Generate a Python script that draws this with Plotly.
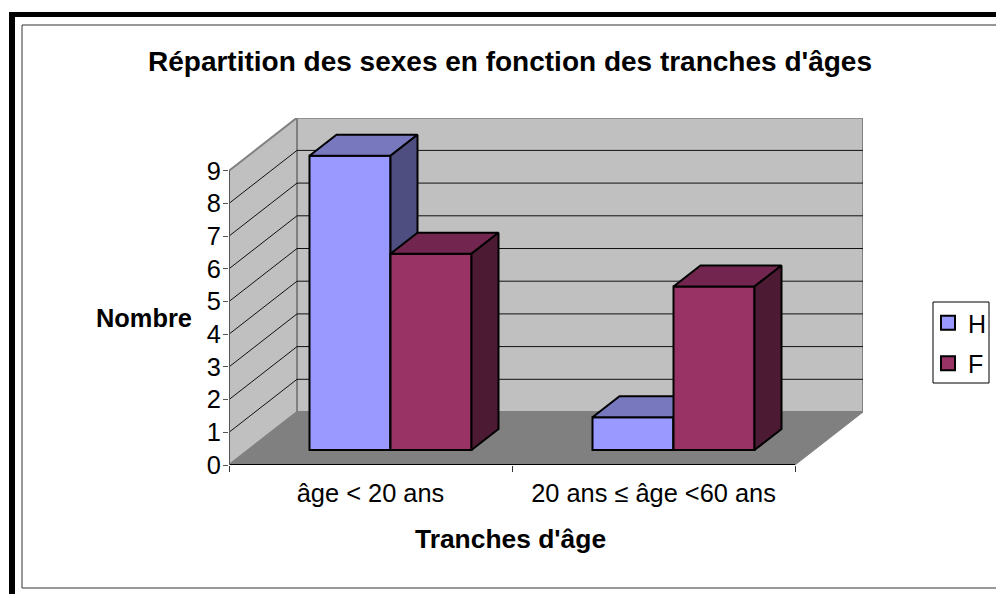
import plotly.graph_objects as go

# Data
categories = ["âge < 20 ans", "20 ans ≤ âge <60 ans"]
h_values = [9, 1]
f_values = [6, 5]
y_ticks = list(range(10))
series_names = ["H", "F"]

# Oblique projection (axis units)
UX = 283.0   # px per category
UY = 32.7    # px per value
WALL_DX, WALL_DY = 68 / UX, 53 / UY
BAR_OFF_X, BAR_OFF_Y = 20 / UX, 15 / UY
BAR_DX, BAR_DY = 27 / UX, 21 / UY
BAR_W = 81 / UX
Y_MAX = 9
X0, X1 = -0.5, 1.5

FONT = "Liberation Sans, Arial, sans-serif"
L, R, T, B = 229, 863, 118, 465
xrange_ = [X0, X0 + (R - L) / UX]
yrange_ = [0, (B - T) / UY]

def px(x): return (x - L) / (R - L)
def py(y): return (B - y) / (B - T)

shapes = []
def poly(points, fill, line="#808080", width=2):
    path = "M" + " L".join(f"{x},{y}" for x, y in points) + " Z"
    shapes.append(dict(type="path", path=path, xref="x", yref="y", layer="below",
                       fillcolor=fill, line=dict(color=line, width=width)))

# Walls and floor
poly([(X0, 0), (X0 + WALL_DX, WALL_DY), (X0 + WALL_DX, WALL_DY + Y_MAX), (X0, Y_MAX)], "#C0C0C0")
poly([(X0 + WALL_DX, WALL_DY), (X1 + WALL_DX, WALL_DY), (X1 + WALL_DX, WALL_DY + Y_MAX), (X0 + WALL_DX, WALL_DY + Y_MAX)], "#C0C0C0")
poly([(X0, 0), (X1, 0), (X1 + WALL_DX, WALL_DY), (X0 + WALL_DX, WALL_DY)], "#808080", "#808080", 1)

# Grid lines on walls
for v in y_ticks[1:-1]:
    shapes.append(dict(type="line", xref="x", yref="y", layer="below", x0=X0, y0=v,
                       x1=X0 + WALL_DX, y1=v + WALL_DY, line=dict(color="#111111", width=1)))
    shapes.append(dict(type="line", xref="x", yref="y", layer="below", x0=X0 + WALL_DX, y0=v + WALL_DY,
                       x1=X1 + WALL_DX, y1=v + WALL_DY, line=dict(color="#111111", width=1)))

# Frame and legend box
shapes += [
    dict(type="rect", xref="paper", yref="paper", x0=px(9), x1=px(15), y0=py(12), y1=py(600),
         fillcolor="black", line=dict(width=0), layer="below"),
    dict(type="rect", xref="paper", yref="paper", x0=px(9), x1=px(1000), y0=py(12), y1=py(17),
         fillcolor="black", line=dict(width=0), layer="below"),
    dict(type="rect", xref="paper", yref="paper", x0=px(22), x1=px(1000), y0=py(25), y1=py(588),
         fillcolor="rgba(0,0,0,0)", line=dict(color="#333333", width=1), layer="below"),
    dict(type="rect", xref="paper", yref="paper", x0=px(933), x1=px(989), y0=py(302), y1=py(383),
         fillcolor="white", line=dict(color="black", width=1), layer="below"),
]

fig = go.Figure()

def add_series(name, values, offset, front, top, side, xa, ya):
    fig.add_trace(go.Bar(
        x=[0, 1], y=values, base=BAR_OFF_Y, width=BAR_W, offset=BAR_OFF_X + offset,
        name=name, marker=dict(color=front, line=dict(color="black", width=2)),
        showlegend=False, xaxis=xa, yaxis=ya, hoverinfo="skip"))
    for i, v in enumerate(values):
        xl = i + BAR_OFF_X + offset
        xr = xl + BAR_W
        ytop = BAR_OFF_Y + v
        fig.add_trace(go.Scatter(
            x=[xl, xr, xr + BAR_DX, xl + BAR_DX, xl],
            y=[ytop, ytop, ytop + BAR_DY, ytop + BAR_DY, ytop],
            mode="lines", fill="toself", fillcolor=top, line=dict(color="black", width=2),
            showlegend=False, xaxis=xa, yaxis=ya, hoverinfo="skip"))
        fig.add_trace(go.Scatter(
            x=[xr, xr + BAR_DX, xr + BAR_DX, xr, xr],
            y=[BAR_OFF_Y, BAR_OFF_Y + BAR_DY, ytop + BAR_DY, ytop, BAR_OFF_Y],
            mode="lines", fill="toself", fillcolor=side, line=dict(color="black", width=2),
            showlegend=False, xaxis=xa, yaxis=ya, hoverinfo="skip"))
    fig.add_trace(go.Scatter(
        x=[None], y=[None], mode="markers", name=name, legendgroup=name,
        marker=dict(symbol="square", size=14, color=front, line=dict(color="black", width=2)),
        xaxis=xa, yaxis=ya))

add_series(series_names[0], h_values, -BAR_W, "#9999FF", "#7878BF", "#4E4E80", "x", "y")
add_series(series_names[1], f_values, 0, "#993366", "#72264F", "#4C1A33", "x2", "y2")

# Axis lines
fig.add_trace(go.Scatter(x=[X0, X1], y=[0, 0], mode="lines", line=dict(color="black", width=2),
                         cliponaxis=False, showlegend=False, hoverinfo="skip"))
fig.add_trace(go.Scatter(x=[X0, X0], y=[0, Y_MAX], mode="lines", line=dict(color="#555555", width=2),
                         cliponaxis=False, showlegend=False, hoverinfo="skip"))

fig.update_layout(
    width=996, height=594, autosize=False,
    margin=dict(l=L, r=996 - R, t=T, b=594 - B, autoexpand=False),
    paper_bgcolor="white", plot_bgcolor="rgba(0,0,0,0)",
    font=dict(family=FONT, color="black", size=25),
    barmode="overlay",
    title=dict(text="<b>Répartition des sexes en fonction des tranches d'âges</b>",
               x=510 / 996, xanchor="center", y=1 - 61 / 594, yanchor="middle",
               font=dict(size=28, family=FONT)),
    xaxis=dict(range=xrange_, tickmode="array", tickvals=[0, 1], ticktext=categories,
               showgrid=False, zeroline=False, showline=False, ticks="", ticklabelstandoff=11,
               tickfont=dict(size=25.4, family=FONT),
               minor=dict(tickmode="array", tickvals=[-0.5, 0.5, 1.5], ticks="outside", ticklen=6,
                          tickwidth=1, tickcolor="#333333", showgrid=False)),
    yaxis=dict(range=yrange_, tickmode="array", tickvals=y_ticks, ticktext=[str(v) for v in y_ticks],
               showgrid=False, zeroline=False, showline=False, ticks="outside", ticklen=5,
               ticklabelstandoff=-3,
               tickcolor="#555555", tickwidth=1, tickfont=dict(size=25.4, family=FONT)),
    xaxis2=dict(range=xrange_, overlaying="x", visible=False),
    yaxis2=dict(range=yrange_, overlaying="y", visible=False, anchor="x2"),
    legend=dict(x=px(928), xanchor="left", y=py(300), yanchor="top", bgcolor="rgba(0,0,0,0)",
                borderwidth=0, font=dict(size=25, family=FONT),
                tracegroupgap=5, itemclick=False, itemdoubleclick=False),
    shapes=shapes,
    annotations=[
        dict(text="<b>Nombre</b>", xref="paper", yref="paper", x=px(144), y=py(318),
             xanchor="center", yanchor="middle",
             showarrow=False, font=dict(size=25.4, family=FONT)),
        dict(text="<b>Tranches d'âge</b>", xref="paper", yref="paper", x=px(510), y=py(539),
             xanchor="center", yanchor="middle",
             showarrow=False, font=dict(size=26.4, family=FONT)),
    ],
)

fig.write_html("out.html", config=dict(displayModeBar=False),
               post_script="document.body.style.margin='0';document.body.style.overflow='hidden';")
